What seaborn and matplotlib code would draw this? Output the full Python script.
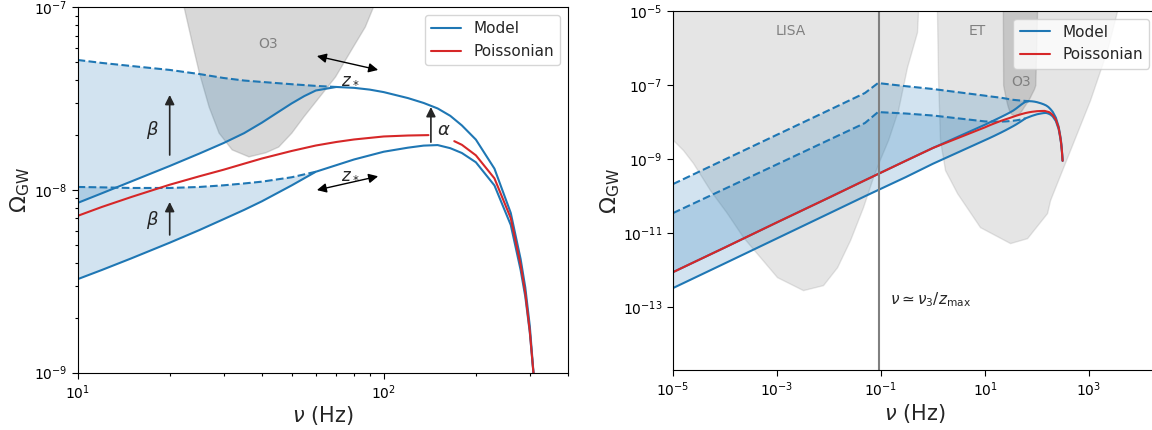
import numpy as np
import seaborn as sns
import matplotlib.pyplot as plt
from matplotlib.lines import Line2D
from matplotlib.ticker import NullLocator

sns.set_style("ticks")
plt.rcParams['font.family'] = ['DejaVu Sans']
plt.rcParams['mathtext.fontset'] = 'dejavusans'
plt.rcParams.update({'axes.edgecolor': 'k', 'xtick.color': 'k', 'ytick.color': 'k'})

blue = '#1f77b4'
red = '#d62728'

# ---- ground-based band (left panel), frequencies in Hz ----
nu_model_up = np.array([10, 12, 15, 20, 25, 30, 35, 40, 45, 50, 55, 60, 70, 80, 90,
                        100, 120, 135, 150, 165, 180, 200, 230, 260, 280, 290, 300, 310])
model_up = np.array([8.50e-9, 9.60e-9, 1.116e-8, 1.355e-8, 1.585e-8, 1.81e-8, 2.05e-8,
                     2.34e-8, 2.66e-8, 2.98e-8, 3.27e-8, 3.51e-8, 3.67e-8, 3.63e-8,
                     3.55e-8, 3.44e-8, 3.19e-8, 3.0e-8, 2.80e-8, 2.55e-8, 2.26e-8,
                     1.89e-8, 1.31e-8, 7.49e-9, 4.19e-9, 2.93e-9, 1.80e-9, 9.0e-10])
nu_model_lo = np.array([10, 12, 15, 20, 25, 30, 35, 40, 50, 60, 70, 80, 100, 120, 135,
                        150, 165, 180, 200, 230, 260, 280, 290, 300, 310])
model_lo = np.array([3.25e-9, 3.65e-9, 4.23e-9, 5.15e-9, 6.04e-9, 6.93e-9, 7.79e-9,
                     8.68e-9, 1.06e-8, 1.26e-8, 1.369e-8, 1.471e-8, 1.622e-8, 1.707e-8,
                     1.752e-8, 1.764e-8, 1.696e-8, 1.596e-8, 1.42e-8, 1.06e-8, 6.44e-9,
                     3.65e-9, 2.61e-9, 1.66e-9, 9.0e-10])

# dashed branches (before the z_* turnover)
nu_dash_up = np.array([10, 12, 15, 20, 25, 30, 35, 40, 50, 60, 70])
dash_up = np.array([5.16e-8, 4.97e-8, 4.78e-8, 4.55e-8, 4.32e-8, 4.11e-8, 3.98e-8,
                    3.91e-8, 3.80e-8, 3.72e-8, 3.67e-8])
nu_dash_lo = np.array([10, 12, 15, 20, 25, 30, 35, 40, 50, 60])
dash_lo = np.array([1.04e-8, 1.035e-8, 1.027e-8, 1.027e-8, 1.04e-8, 1.062e-8,
                    1.087e-8, 1.112e-8, 1.175e-8, 1.26e-8])

# Poissonian curve (split around the alpha label)
nu_pois_a = np.array([10, 12, 15, 20, 25, 30, 35, 40, 50, 60, 70, 80, 100, 120, 140])
pois_a = np.array([7.22e-9, 8.08e-9, 9.17e-9, 1.07e-8, 1.19e-8, 1.293e-8, 1.395e-8,
                   1.489e-8, 1.637e-8, 1.754e-8, 1.834e-8, 1.893e-8, 1.966e-8, 1.99e-8,
                   2.00e-8])
nu_pois_b = np.array([170, 180, 200, 230, 260, 280, 290, 300, 310])
pois_b = np.array([1.853e-8, 1.77e-8, 1.55e-8, 1.159e-8, 7.01e-9, 3.89e-9, 2.73e-9,
                   1.69e-9, 9.0e-10])

# ---- low-frequency part (right panel) ----
nu_low = np.array([1e-5, 1e-4, 1e-3, 1e-2, 0.049, 0.0875, 0.3, 1.0])
dash_up_low = np.array([2.11e-10, 9.8e-10, 4.54e-9, 2.1e-8, 6.08e-8, 1.13e-7, 9.3e-8, 7.8e-8])
dash_lo_low = np.array([3.47e-11, 1.58e-10, 7.2e-10, 3.3e-9, 9.4e-9, 1.86e-8, 1.7e-8, 1.5e-8])
model_up_low = np.array([8.8e-13, 4.1e-12, 1.95e-11, 9.1e-11, 2.67e-10, 3.94e-10, 9.0e-10, 2.0e-9])
model_lo_low = np.array([3.27e-13, 1.53e-12, 7.2e-12, 3.39e-11, 9.9e-11, 1.45e-10, 3.26e-10, 7.5e-10])
pois_low = np.array([8.8e-13, 4.1e-12, 1.95e-11, 9.1e-11, 2.67e-10, 3.94e-10, 9.0e-10, 2.0e-9])
nu_turn = 0.09

# ---- detector sensitivity curves ----
lisa_nu = np.array([1e-5, 1.56e-5, 2.43e-5, 5.15e-5, 1.09e-4, 2.22e-4, 4.71e-4, 1e-3,
                    3.16e-3, 7.67e-3, 1.43e-2, 2.54e-2, 4.51e-2, 7.02e-2, 9.57e-2,
                    0.1365, 0.212, 0.316, 0.492, 0.515])
lisa_om = np.array([3.27e-9, 1.75e-9, 7.8e-10, 1.45e-10, 3.47e-11, 7.8e-12, 2.25e-12,
                    6.47e-13, 2.88e-13, 3.93e-13, 1.2e-12, 6.5e-12, 5.05e-11, 3.27e-10,
                    1.0e-9, 3.27e-9, 2.11e-8, 3.06e-7, 2.7e-6, 1e-5])
et_nu = np.array([1.19, 1.25, 1.36, 1.70, 2.9, 8.0, 30.3, 64.3, 155.7, 178, 431,
                  1045, 2218, 3451])
et_om = np.array([1e-5, 1.36e-7, 3.27e-9, 5.05e-10, 1.2e-10, 1.45e-11, 5.37e-12,
                  7.3e-12, 3.47e-11, 7.8e-11, 1.75e-9, 3.94e-8, 8.83e-7, 1e-5])
o3_nu = np.array([22.0, 22.3, 23.7, 25.0, 26.9, 29.0, 32.0, 36.3, 41.2, 45.4, 50.1,
                  54.8, 59.9, 69.6, 78.5, 87.1, 92.5, 100])
o3_om = np.array([1e-5, 1e-7, 6.4e-8, 4.38e-8, 2.85e-8, 2.05e-8, 1.66e-8, 1.52e-8,
                  1.6e-8, 1.72e-8, 2.05e-8, 2.51e-8, 3.03e-8, 4.16e-8, 5.85e-8,
                  7.82e-8, 1e-7, 1e-5])

# minor tick positions of the left panel
minor_x_left = [20, 30, 40, 50, 60, 70, 80, 90, 200, 300, 400]
minor_y_left = [2e-9, 3e-9, 4e-9, 5e-9, 6e-9, 7e-9, 8e-9, 9e-9,
                2e-8, 3e-8, 4e-8, 5e-8, 6e-8, 7e-8, 8e-8, 9e-8]


def draw_line(ax, x, y, color, ls='-'):
    sns.lineplot(x=x, y=y, ax=ax, color=color, lw=1.5, linestyle=ls,
                 legend=False, sort=False, estimator=None)


def band(ax, x_top, y_top, x_bot, y_bot):
    # shaded region between a dashed branch and the solid model curve
    keep = x_bot <= x_top.max()
    xs = np.concatenate([x_top, x_bot[keep][::-1]])
    ys = np.concatenate([y_top, y_bot[keep][::-1]])
    ax.fill(xs, ys, color=blue, alpha=0.2, lw=0)


def add_legend(ax):
    handles = [Line2D([], [], color=blue, lw=1.5), Line2D([], [], color=red, lw=1.5)]
    ax.legend(handles, ['Model', 'Poissonian'], loc='upper right', fontsize=11)


fig = plt.figure(figsize=(11.52, 4.3), dpi=100)
axL = fig.add_axes([0.0673, 0.1333, 0.4258, 0.8493])
axR = fig.add_axes([0.5842, 0.1395, 0.4199, 0.8349])

# ---------------- left panel ----------------
ax = axL
ax.set_xscale('log')
ax.set_yscale('log')
ax.fill_between(o3_nu, o3_om, 1e-3, color='gray', alpha=0.3, lw=1)
band(ax, nu_dash_up, dash_up, nu_model_up, model_up)
band(ax, nu_dash_lo, dash_lo, nu_model_lo, model_lo)
draw_line(ax, nu_dash_up, dash_up, blue, '--')
draw_line(ax, nu_dash_lo, dash_lo, blue, '--')
draw_line(ax, nu_model_up, model_up, blue)
draw_line(ax, nu_model_lo, model_lo, blue)
draw_line(ax, nu_pois_a, pois_a, red)
draw_line(ax, nu_pois_b, pois_b, red)

ax.text(42, 6.3e-8, 'O3', color='gray', fontsize=10, ha='center', va='center')
dbl = dict(arrowstyle='<|-|>', color='k', lw=1, mutation_scale=14, shrinkA=0, shrinkB=0)
up = dict(arrowstyle='-|>', color='0.15', lw=1.2, mutation_scale=14, shrinkA=0, shrinkB=0)
ax.annotate('', xy=(95.9, 4.55e-8), xytext=(60.5, 5.42e-8), arrowprops=dbl)
ax.annotate('', xy=(95.9, 1.19e-8), xytext=(60.5, 1.0e-8), arrowprops=dbl)
ax.text(77.8, 4.11e-8, r'$z_*$', fontsize=12, ha='center', va='center')
ax.text(77.8, 1.24e-8, r'$z_*$', fontsize=12, ha='center', va='center')
ax.annotate('', xy=(20, 3.32e-8), xytext=(20, 1.556e-8), arrowprops=up)
ax.annotate('', xy=(20, 8.61e-9), xytext=(20, 5.68e-9), arrowprops=up)
ax.text(17.6, 2.13e-8, r'$\beta$', fontsize=13, ha='center', va='center')
ax.text(17.6, 6.86e-9, r'$\beta$', fontsize=13, ha='center', va='center')
ax.annotate('', xy=(142.6, 2.85e-8), xytext=(142.6, 1.83e-8), arrowprops=up)
ax.text(157, 2.13e-8, r'$\alpha$', fontsize=13, ha='center', va='center')

ax.set_xlim(10, 400)
ax.set_ylim(1e-9, 1e-7)
ax.set_xticks(minor_x_left, minor=True)
ax.set_yticks(minor_y_left, minor=True)
ax.set_xticklabels([], minor=True)
ax.set_yticklabels([], minor=True)
ax.tick_params(which='major', length=4, width=0.8, color='k', bottom=True, left=True)
ax.tick_params(which='minor', length=2.5, width=0.8, color='k', bottom=True, left=True)
ax.set_xlabel(r'$\nu$ (Hz)', fontsize=15, labelpad=2)
ax.set_ylabel(r'$\Omega_{\rm GW}$', fontsize=16, labelpad=1)
add_legend(ax)

# ---------------- right panel ----------------
ax = axR
ax.set_xscale('log')
ax.set_yscale('log')
ax.fill_between(lisa_nu, lisa_om, 1e-3, color='gray', alpha=0.2, lw=1)
ax.fill_between(et_nu, et_om, 1e-3, color='gray', alpha=0.2, lw=1)
ax.fill_between(o3_nu, o3_om, 1e-3, color='gray', alpha=0.3, lw=1)

nuR_dash_up = np.concatenate([nu_low, nu_dash_up])
dR_up = np.concatenate([dash_up_low, dash_up])
nuR_dash_lo = np.concatenate([nu_low, nu_dash_lo])
dR_lo = np.concatenate([dash_lo_low, dash_lo])
nuR_up = np.concatenate([nu_low, nu_model_up])
mR_up = np.concatenate([model_up_low, model_up])
nuR_lo = np.concatenate([nu_low, nu_model_lo])
mR_lo = np.concatenate([model_lo_low, model_lo])
band(ax, nuR_dash_up, dR_up, nuR_up, mR_up)
band(ax, nuR_dash_lo, dR_lo, nuR_lo, mR_lo)

draw_line(ax, nuR_dash_up, dR_up, blue, '--')
draw_line(ax, nuR_dash_lo, dR_lo, blue, '--')
draw_line(ax, nuR_up, mR_up, blue)
draw_line(ax, nuR_lo, mR_lo, blue)
draw_line(ax, np.concatenate([nu_low, nu_pois_a, nu_pois_b]),
          np.concatenate([pois_low, pois_a, pois_b]), red)

ax.axvline(nu_turn, color='gray', lw=1.5)
ax.text(0.149, 1.55e-13, r'$\nu \simeq \nu_3/z_{\rm max}$', fontsize=11,
        ha='left', va='center')
ax.text(1.86e-3, 2.9e-6, 'LISA', color='gray', fontsize=10, ha='center', va='center')
ax.text(7.0, 2.9e-6, 'ET', color='gray', fontsize=10, ha='center', va='center')
ax.text(49, 1.2e-7, 'O3', color='gray', fontsize=10, ha='center', va='center')

ax.set_xlim(1e-5, 2e4)
ax.set_ylim(2e-15, 1e-5)
ax.xaxis.set_minor_locator(NullLocator())
ax.yaxis.set_minor_locator(NullLocator())
ax.tick_params(which='major', length=4, width=0.8, color='k', bottom=True, left=True)
ax.set_xlabel(r'$\nu$ (Hz)', fontsize=15, labelpad=2)
ax.set_ylabel(r'$\Omega_{\rm GW}$', fontsize=16, labelpad=1)
add_legend(ax)

fig.savefig('out.png', dpi=100)
